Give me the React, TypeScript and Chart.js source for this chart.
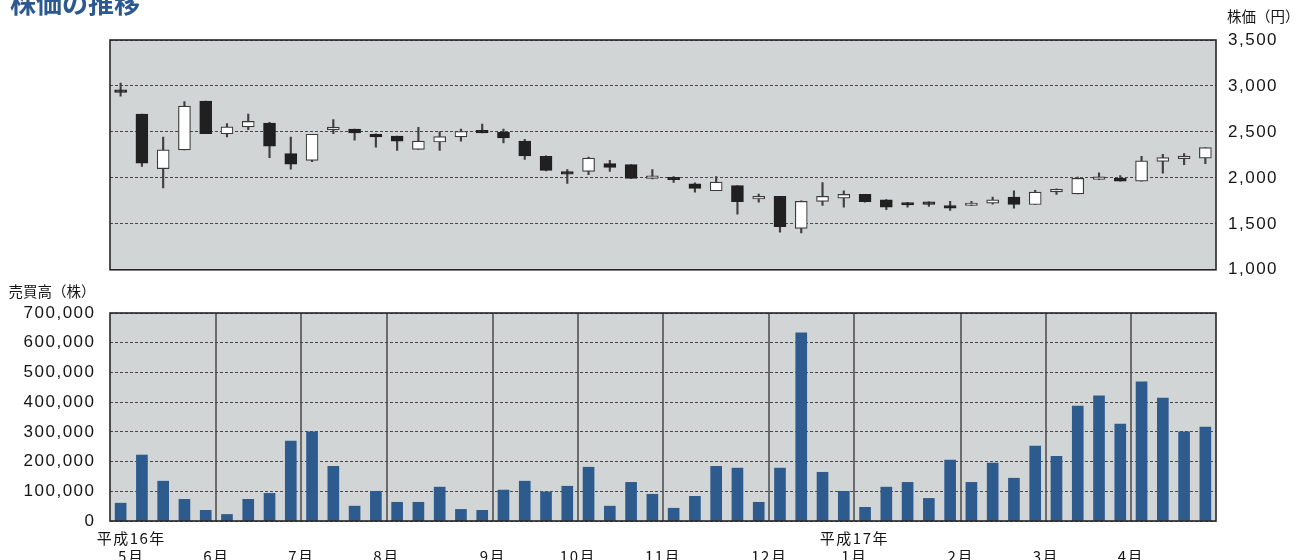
import { useEffect, useRef } from 'react';
import { Chart, registerables } from 'chart.js';

Chart.register(...registerables);

// Weekly categories (week starting Monday), 平成16年5月 – 平成17年4月
const weeks = [
  '2004/5/3', '2004/5/10', '2004/5/17', '2004/5/24', '2004/5/31',
  '2004/6/7', '2004/6/14', '2004/6/21', '2004/6/28',
  '2004/7/5', '2004/7/12', '2004/7/19', '2004/7/26',
  '2004/8/2', '2004/8/9', '2004/8/16', '2004/8/23', '2004/8/30',
  '2004/9/6', '2004/9/13', '2004/9/20', '2004/9/27',
  '2004/10/4', '2004/10/11', '2004/10/18', '2004/10/25',
  '2004/11/1', '2004/11/8', '2004/11/15', '2004/11/22', '2004/11/29',
  '2004/12/6', '2004/12/13', '2004/12/20', '2004/12/27',
  '2005/1/3', '2005/1/10', '2005/1/17', '2005/1/24', '2005/1/31',
  '2005/2/7', '2005/2/14', '2005/2/21', '2005/2/28',
  '2005/3/7', '2005/3/14', '2005/3/21', '2005/3/28',
  '2005/4/4', '2005/4/11', '2005/4/18', '2005/4/25',
];

// 株価 (円)
const opens = [
  2955, 2695, 2100, 2305, 2835, 2480, 2555, 2595, 2265, 2190,
  2525, 2530, 2475, 2455, 2310, 2390, 2445, 2505, 2495, 2400,
  2235, 2050, 2070, 2155, 2145, 1995, 1985, 1935, 1860, 1915,
  1770, 1800, 1450, 1745, 1780, 1820, 1760, 1710, 1720, 1700,
  1700, 1725, 1790, 1710, 1848, 1825, 1983, 1995, 1965, 2180,
  2210, 2215,
];
const highs = [
  3030, 2695, 2445, 2830, 2835, 2590, 2695, 2605, 2445, 2475,
  2635, 2530, 2480, 2455, 2550, 2500, 2530, 2585, 2530, 2420,
  2240, 2090, 2225, 2190, 2145, 2090, 2015, 1945, 2015, 1915,
  1825, 1800, 1750, 1950, 1860, 1820, 1765, 1735, 1740, 1745,
  1745, 1790, 1860, 1865, 1880, 2010, 2055, 2025, 2235, 2255,
  2265, 2330,
];
const lows = [
  2890, 2125, 1890, 2305, 2480, 2445, 2525, 2220, 2095, 2175,
  2480, 2410, 2335, 2300, 2310, 2300, 2400, 2490, 2380, 2200,
  2075, 1940, 2035, 2070, 1995, 1990, 1950, 1845, 1860, 1605,
  1735, 1410, 1400, 1700, 1680, 1735, 1655, 1680, 1690, 1645,
  1698, 1715, 1670, 1710, 1820, 1825, 1980, 1965, 1965, 2050,
  2145, 2155,
];
const closes = [
  2930, 2160, 2305, 2780, 2480, 2555, 2615, 2345, 2150, 2475,
  2525, 2490, 2445, 2400, 2400, 2450, 2505, 2490, 2435, 2240,
  2080, 2040, 2215, 2115, 1995, 2015, 1980, 1885, 1955, 1740,
  1800, 1470, 1745, 1800, 1820, 1740, 1680, 1705, 1712, 1670,
  1725, 1760, 1710, 1845, 1852, 1995, 1987, 1965, 2185, 2220,
  2215, 2330,
];

// 売買高 (株)
const volumes = [
  60000, 222000, 134000, 73000, 36000, 22000, 73000, 93000, 269000, 300000,
  184000, 50000, 100000, 63000, 63000, 114000, 39000, 36000, 104000, 134000,
  98000, 117000, 181000, 50000, 130000, 90000, 43000, 83000, 184000, 178000,
  63000, 178000, 633000, 164000, 100000, 46000, 114000, 130000, 76000, 205000,
  130000, 195000, 144000, 252000, 218000, 387000, 421000, 326000, 468000, 414000,
  300000, 316000,
];

// Axis ranges
const priceMin = 1000;
const priceMax = 3500;
const priceStep = 500;
const volumeMin = 0;
const volumeMax = 700000;
const volumeStep = 100000;

// Month tick labels (placed on week boundaries)
const monthTickIndex = [1, 5, 9, 13, 18, 22, 26, 31, 35, 40, 44, 48];
const monthTickLabels = ['5月', '6月', '7月', '8月', '9月', '10月', '11月', '12月', '1月', '2月', '3月', '4月'];
const yearTickIndex = [1, 35];
const yearTickLabels = ['平成16年', '平成17年'];
const monthDividerIndex = [5, 9, 13, 18, 22, 26, 31, 35, 40, 44, 48];

const title = '株価の推移';
const priceUnit = '株価（円）';
const volumeUnit = '売買高（株）';

const PLOT_BG = '#d2d5d6';
const FRAME = '#262626';
const GRID = '#474747';
const BAR_BLUE = '#2e5b8e';
const TITLE_BLUE = '#2c5a90';
const NUM_FONT = "'Liberation Sans', Arial, sans-serif";
const CJK_FONT = "'Noto Sans CJK JP', 'Noto Sans CJK SC', sans-serif";

const fmt = (v: number | string) => Number(v).toLocaleString('en-US');

type TextItem = { text: string; x: number; y: number; font: string; color: string; align?: CanvasTextAlign };

const framePlugin = (texts: TextItem[]) => ({
  id: 'frameAndTexts',
  beforeDraw(chart: any) {
    const { ctx, chartArea: a } = chart;
    ctx.save();
    ctx.fillStyle = PLOT_BG;
    ctx.fillRect(a.left, a.top, a.right - a.left, a.bottom - a.top);
    ctx.restore();
    (ctx as any).letterSpacing = '1.5px';
  },
  afterDraw(chart: any) {
    const { ctx, chartArea: a } = chart;
    ctx.save();
    ctx.strokeStyle = FRAME;
    ctx.lineWidth = 1.6;
    ctx.strokeRect(a.left, a.top, a.right - a.left, a.bottom - a.top);
    (ctx as any).letterSpacing = '0px';
    for (const t of texts) {
      ctx.font = t.font;
      ctx.fillStyle = t.color;
      ctx.textAlign = t.align || 'left';
      ctx.textBaseline = 'alphabetic';
      ctx.fillText(t.text, t.x, t.y);
    }
    ctx.restore();
  },
});

export default function App() {
  const priceRef = useRef<HTMLCanvasElement>(null);
  const volRef = useRef<HTMLCanvasElement>(null);

  useEffect(() => {
    const isUp = (i: number) => closes[i] >= opens[i];

    const priceChart = new Chart(priceRef.current!, {
      type: 'bar',
      data: {
        labels: weeks,
        datasets: [
          {
            label: 'body',
            data: opens.map((o, i) => [o, closes[i]]) as any,
            backgroundColor: (c: any) => (c.dataIndex === undefined ? '#fff' : isUp(c.dataIndex) ? '#ffffff' : '#1f201f'),
            borderColor: (c: any) => (c.dataIndex === undefined ? '#333' : isUp(c.dataIndex) ? '#3a3a3a' : '#1f201f'),
            borderWidth: 1.2,
            borderSkipped: false,
            barThickness: 12,
            minBarLength: 2.5,
            grouped: false,
            order: 0,
          } as any,
          {
            label: 'wick',
            data: lows.map((l, i) => [l, highs[i]]) as any,
            backgroundColor: '#404040',
            borderWidth: 0,
            barThickness: 1.5,
            grouped: false,
            order: 1,
          } as any,
        ],
      },
      options: {
        animation: false,
        responsive: false,
        devicePixelRatio: 1,
        events: [],
        layout: { padding: { top: 40, left: 110, right: 0, bottom: 11 } },
        plugins: { legend: { display: false }, tooltip: { enabled: false } },
        scales: {
          x: { type: 'category', display: false, offset: true },
          y: {
            position: 'right',
            min: priceMin,
            max: priceMax,
            ticks: {
              stepSize: priceStep,
              padding: 12,
              color: '#151515',
              font: { family: NUM_FONT, size: 17 },
              callback: (v: any) => fmt(v),
            },
            grid: { color: GRID, lineWidth: 1, drawTicks: false },
            border: { display: false, dash: [3, 2] },
            afterFit: (s: any) => {
              s.width = 82;
            },
          } as any,
        },
      },
      plugins: [
        framePlugin([
          { text: title, x: 10, y: 13, font: `bold 26px ${CJK_FONT}`, color: TITLE_BLUE },
          { text: priceUnit, x: 1227, y: 22, font: `14.5px ${CJK_FONT}`, color: '#151515' },
        ]),
      ],
    });

    const volChart = new Chart(volRef.current!, {
      type: 'bar',
      data: {
        labels: weeks,
        datasets: [
          {
            label: '売買高',
            data: volumes,
            backgroundColor: BAR_BLUE,
            borderWidth: 0,
            barThickness: 11,
          },
        ],
      },
      options: {
        animation: false,
        responsive: false,
        devicePixelRatio: 1,
        events: [],
        layout: { padding: { top: 33, left: 0, right: 82, bottom: 0 } },
        plugins: { legend: { display: false }, tooltip: { enabled: false } },
        scales: {
          x: {
            type: 'category',
            offset: true,
            grid: {
              offset: true,
              drawTicks: false,
              lineWidth: 2,
              color: (c: any) => (c.index !== undefined && monthDividerIndex.includes(c.index) ? '#6c6c6c' : 'rgba(0,0,0,0)'),
            },
            border: { display: false },
            ticks: {
              autoSkip: false,
              maxRotation: 0,
              minRotation: 0,
              padding: 9,
              labelOffset: -10.63,
              color: '#151515',
              font: { family: CJK_FONT, size: 15, lineHeight: 1.15 },
              callback: (_v: any, i: number) => {
                const m = monthTickIndex.indexOf(i);
                if (m < 0) return '';
                const y = yearTickIndex.indexOf(i);
                return [y >= 0 ? yearTickLabels[y] : '', monthTickLabels[m]];
              },
            },
            afterFit: (s: any) => {
              s.height = 40;
            },
          } as any,
          y: {
            position: 'left',
            min: volumeMin,
            max: volumeMax,
            ticks: {
              stepSize: volumeStep,
              padding: 14.5,
              color: '#151515',
              font: { family: NUM_FONT, size: 17 },
              callback: (v: any) => fmt(v),
            },
            grid: { color: GRID, lineWidth: 1, drawTicks: false },
            border: { display: false, dash: [3, 2] },
            afterFit: (s: any) => {
              s.width = 110;
            },
          } as any,
        },
      },
      plugins: [
        framePlugin([{ text: volumeUnit, x: 8.5, y: 17, font: `14.5px ${CJK_FONT}`, color: '#151515' }]),
      ],
    });

    return () => {
      priceChart.destroy();
      volChart.destroy();
    };
  }, []);

  return (
    <div
      style={{
        position: 'fixed',
        left: 0,
        top: 0,
        width: 1298,
        height: 560,
        overflow: 'hidden',
        background: '#ffffff',
      }}
    >
      <canvas
        ref={priceRef}
        width={1298}
        height={292}
        style={{ position: 'absolute', left: 0, top: 0, width: 1298, height: 292, display: 'block' }}
      />
      <canvas
        ref={volRef}
        width={1298}
        height={281}
        style={{ position: 'absolute', left: 0, top: 280, width: 1298, height: 281, display: 'block' }}
      />
    </div>
  );
}
